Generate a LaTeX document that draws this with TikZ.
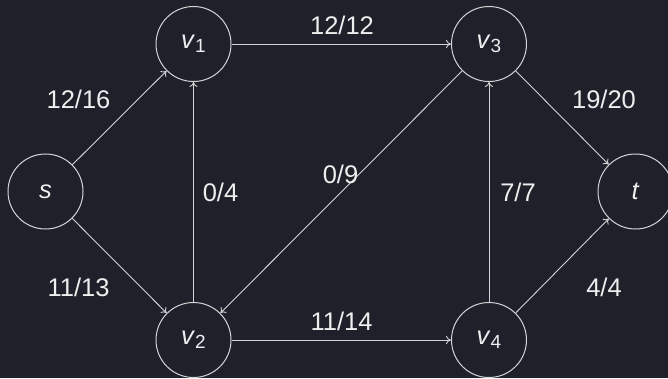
\documentclass[tikz,border=0pt]{standalone}
\usepackage{fontspec}
\setmainfont{Liberation Sans}
\usetikzlibrary{arrows.meta}
\definecolor{bg}{HTML}{1E212A}
\definecolor{ln}{HTML}{D4D4D4}
\definecolor{tx}{HTML}{EEEEEE}
\newcommand{\vx}[1]{\textit{v}\raisebox{-0.3ex}{\fontsize{19}{21}\selectfont #1}}
\begin{document}
\begin{tikzpicture}[x=1pt,y=1pt,
  vertex/.style={circle,draw=ln,line width=1pt,minimum size=75pt,inner sep=0pt,text=tx,font=\fontsize{25.5}{29}\selectfont},
  flow/.style={draw=ln,line width=0.9pt,-{To[length=5pt,width=8pt]}},
  lbl/.style={text=tx,inner sep=0pt,font=\fontsize{25.5}{29}\selectfont}]
\fill[bg] (0,0) rectangle (668,378);
\useasboundingbox (0,0) rectangle (668,378);
\node[vertex] (s) at (45.5,186.5) {\textit{s}};
\node[vertex] (v1) at (193.5,334) {\vx{1}};
\node[vertex] (v2) at (193.5,38) {\vx{2}};
\node[vertex] (v3) at (489,334) {\vx{3}};
\node[vertex] (v4) at (489,38) {\vx{4}};
\node[vertex] (t) at (635.5,186.5) {\textit{t}};
\draw[flow] (s) -- (v1);
\draw[flow] (s) -- (v2);
\draw[flow] (v1) -- (v3);
\draw[flow] (v2) -- (v1);
\draw[flow] (v3) -- (v2);
\draw[flow] (v2) -- (v4);
\draw[flow] (v4) -- (v3);
\draw[flow] (v3) -- (t);
\draw[flow] (v4) -- (t);
\node[lbl] (l1) at (78.5,278.5) {12/16};
\node[lbl] (l2) at (342,353) {12/12};
\node[lbl] (l3) at (604,278.5) {19/20};
\node[lbl] (l4) at (220.5,185.5) {0/4};
\node[lbl] (l5) at (340.5,204) {0/9};
\node[lbl] (l6) at (518,185.5) {7/7};
\node[lbl] (l7) at (78.5,91) {11/13};
\node[lbl] (l8) at (341.5,56.5) {11/14};
\node[lbl] (l9) at (604,91) {4/4};
\end{tikzpicture}
\end{document}
